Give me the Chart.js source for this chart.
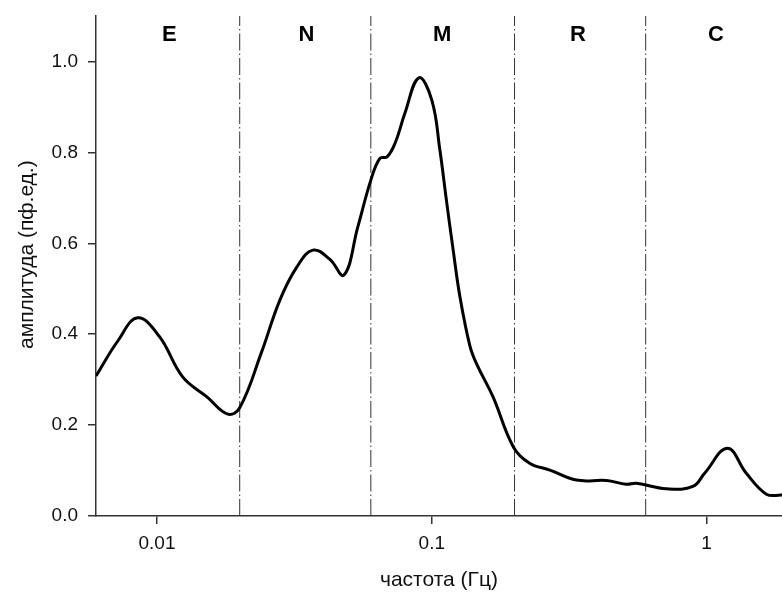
<!DOCTYPE html>
<html>
<head>
<meta charset="utf-8">
<script src="https://cdn.jsdelivr.net/npm/chart.js@4/dist/chart.umd.min.js"></script>
<style>
  body { margin: 0; background: #fff; }
  #wrap { width: 782px; height: 597px; }
</style>
</head>
<body>
<div id="wrap"><canvas id="myChart" width="782" height="597"></canvas></div>
<script>
// spectrum
var freq = [0.006, 0.0072, 0.0085, 0.0102, 0.0124, 0.0152, 0.0181, 0.02, 0.024, 0.028, 0.0323, 0.0369,
            0.0425, 0.0479, 0.0538, 0.06, 0.0647, 0.0687, 0.0735, 0.0798, 0.0897, 0.1, 0.107, 0.113,
            0.1196, 0.1266, 0.1375, 0.1454, 0.167, 0.198, 0.227, 0.269, 0.336, 0.432, 0.51, 0.555,
            0.713, 0.891, 0.983, 1.19, 1.394, 1.65, 1.88];
var ampl = [0.308, 0.385, 0.436, 0.395, 0.306, 0.262, 0.224, 0.238, 0.36, 0.475, 0.548, 0.585,
            0.565, 0.53, 0.636, 0.739, 0.787, 0.79, 0.82, 0.886, 0.964, 0.915, 0.805, 0.695,
            0.585, 0.482, 0.375, 0.335, 0.262, 0.152, 0.116, 0.101, 0.079, 0.078, 0.07, 0.072,
            0.06, 0.065, 0.094, 0.149, 0.094, 0.048, 0.046];

var xTicks = [0.01, 0.1, 1];
var yTicks = [0, 0.2, 0.4, 0.6, 0.8, 1.0];

// band borders and band names
var borders = [0.02, 0.06, 0.2, 0.6];
var bandNames = ['E', 'N', 'M', 'R', 'C'];
var bandPos = [0.0111, 0.035, 0.109, 0.34, 1.08];

var xTitle = 'частота (Гц)';
var yTitle = 'амплитуда (пф.ед.)';

var fontFam = '"Liberation Sans", Arial, sans-serif';

var datasets = [{
    data: freq.map(function (f, i) { return { x: f, y: ampl[i] }; }),
    borderColor: '#000',
    borderWidth: 3,
    pointRadius: 0,
    tension: 0.4,
    order: 0
}];
borders.forEach(function (b) {
    datasets.push({
        data: [{ x: b, y: 0 }, { x: b, y: 1.1 }],
        borderColor: '#333',
        borderWidth: 1,
        borderDash: [17, 3, 1.5, 3],
        pointRadius: 0,
        order: 1
    });
});

var labelsPlugin = {
    id: 'bandLabels',
    afterDraw: function (chart) {
        var c = chart.ctx;
        var xs = chart.scales.x, ys = chart.scales.y;
        c.save();
        c.fillStyle = '#000';
        c.font = 'bold 22px ' + fontFam;
        c.textAlign = 'center';
        c.textBaseline = 'middle';
        bandNames.forEach(function (n, i) {
            c.fillText(n, xs.getPixelForValue(bandPos[i]), ys.getPixelForValue(1.058));
        });
        // y axis title
        c.fillStyle = '#111';
        c.font = '21px ' + fontFam;
        c.translate(27, ys.getPixelForValue(0.575));
        c.rotate(-Math.PI / 2);
        c.fillText(yTitle, 0, 0);
        c.restore();
    }
};

var ctx = document.getElementById('myChart');
var myChart = new Chart(ctx, {
    type: 'line',
    data: { datasets: datasets },
    plugins: [labelsPlugin],
    options: {
        responsive: false,
        animation: false,
        layout: { padding: { top: 16, right: 0, left: 0, bottom: 0 } },
        plugins: { legend: { display: false }, tooltip: { enabled: false } },
        scales: {
            x: {
                type: 'logarithmic',
                min: 0.006,
                max: 1.88,
                afterBuildTicks: function (s) { s.ticks = xTicks.map(function (v) { return { value: v }; }); },
                afterFit: function (s) { s.height = 81; s.paddingLeft = 0; s.paddingRight = 0; },
                ticks: {
                    color: '#111',
                    font: { size: 19, family: fontFam },
                    padding: 8,
                    maxRotation: 0,
                    callback: function (v) { return String(v); }
                },
                grid: { drawOnChartArea: false, drawTicks: true, tickLength: 8, color: '#333', lineWidth: 1.5 },
                border: { display: true, color: '#333', width: 1.5 },
                title: {
                    display: true,
                    text: xTitle,
                    color: '#111',
                    font: { size: 21, family: fontFam },
                    padding: { top: 14 }
                }
            },
            y: {
                min: 0,
                max: 1.1,
                afterBuildTicks: function (s) { s.ticks = yTicks.map(function (v) { return { value: v }; }); },
                afterFit: function (s) { s.width = 96; s.paddingTop = 0; s.paddingBottom = 0; },
                ticks: {
                    color: '#111',
                    font: { size: 19, family: fontFam },
                    padding: 10,
                    callback: function (v) { return v.toFixed(1); }
                },
                grid: { drawOnChartArea: false, drawTicks: true, tickLength: 8, color: '#333', lineWidth: 1.5 },
                border: { display: true, color: '#333', width: 1.5 }
            }
        }
    }
});
</script>
</body>
</html>
